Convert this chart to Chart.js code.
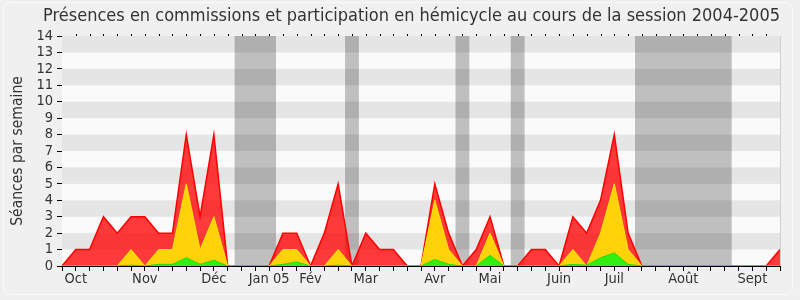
<!DOCTYPE html>
<html>
<head>
<meta charset="utf-8">
<script src="https://cdn.jsdelivr.net/npm/chart.js@4/dist/chart.umd.min.js"></script>
<style>
html,body{margin:0;padding:0;background:#f0f0f0;}
#wrap{position:absolute;left:0;top:0;width:800px;height:300px;}
#frame{position:absolute;left:3px;top:2px;width:788px;height:291px;border:1px solid #fbfbfb;border-radius:8px;}
canvas{position:absolute;left:0;top:0;}
</style>
</head>
<body>
<div id="wrap">
<div id="frame"></div>
<canvas id="c" width="800" height="300"></canvas>
</div>
<script>
// Week labels (53 weeks, month names where shown)
const monthLabels = {1:'Oct',6:'Nov',11:'Déc',15:'Jan 05',18:'Fév',22:'Mar',27:'Avr',31:'Mai',36:'Juin',40:'Juil',45:'Août',50:'Sept'};
const weeks = Array.from({length:53}, (_, i) => monthLabels[i] || '');

// Total sessions per week (red)
const totalSeances = [0,1,1,3,2,3,3,2,2,8,3,8,0, 0,0,0,2,2,0,2,5,0,2,1,1,0,0, 5,2,0,1,3,0,0,1,1,0,3,2,4,8,2,0, 0,0,0,0,0,0,0,0,0,1];
// Commission presences (yellow)
const commissions = [0,0,0,0,0,1,0,1,1,5,1,3,0, 0,0,0,1,1,0,0,1,0,0,0,0,0,0, 4,1,0,0,2,0,0,0,0,0,1,0,2,5,1,0, 0,0,0,0,0,0,0,0,0,0];
// Hemicycle interventions (green)
const hemicycle = [0,0,0,0,0,0.05,0,0.1,0.1,0.5,0.1,0.35,0, 0,0,0,0.1,0.25,0,0,0.05,0,0,0,0,0,0, 0.4,0.1,0,0,0.65,0,0,0,0,0,0.1,0.05,0.5,0.8,0.1,0, 0,0,0,0,0,0,0,0,0,0];
// Parliamentary recess weeks (index ranges)
const vacances = [[13,15],[21,21],[29,29],[33,33],[42,48]];
const yTicks = [0,14];

const FONT = 'DejaVu Sans Condensed';

const bgPlugin = {
  id:'bg',
  beforeDatasetsDraw(chart){
    const {ctx, chartArea:a, scales:{x,y}} = chart;
    ctx.save();
    ctx.fillStyle = '#fafafa';
    ctx.fillRect(a.left, a.top, a.right-a.left, a.bottom-a.top);
    ctx.fillStyle = '#e5e5e5';
    for(let v=1; v<14; v+=2){
      const y1 = y.getPixelForValue(v+1), y0 = y.getPixelForValue(v);
      ctx.fillRect(a.left, y1, a.right-a.left, y0-y1);
    }
    ctx.fillStyle = 'rgba(0,0,0,0.235)';
    const step = x.getPixelForValue(1)-x.getPixelForValue(0);
    vacances.forEach(([s,e])=>{
      const l = x.getPixelForValue(s)-step/2, r = x.getPixelForValue(e)+step/2;
      ctx.fillRect(l, a.top, r-l, a.bottom-a.top);
    });
    ctx.restore();
  },
  afterDraw(chart){
    const {ctx, chartArea:a, scales:{x}} = chart;
    ctx.save();
    ctx.strokeStyle = '#000';
    ctx.lineWidth = 1;
    for(let i=1;i<weeks.length-1;i++){
      const px = Math.round(x.getPixelForValue(i))+0.5;
      ctx.beginPath(); ctx.moveTo(px, a.top-2); ctx.lineTo(px, a.top); ctx.stroke();
    }
    ctx.strokeStyle = '#cfcfcf';
    ctx.beginPath(); ctx.moveTo(a.right+0.5, a.top); ctx.lineTo(a.right+0.5, a.bottom); ctx.stroke();
    ctx.restore();
  }
};

new Chart(document.getElementById('c'), {
  type:'line',
  data:{
    labels: weeks,
    datasets:[
      {data: hemicycle, fill:'origin', backgroundColor:'#33ee11', borderColor:'#22dd00', borderWidth:1, pointRadius:0, tension:0, order:1},
      {data: commissions, fill:'origin', backgroundColor:'#ffd20a', borderColor:'#ffe600', borderWidth:1, pointRadius:0, tension:0, order:2},
      {data: totalSeances, fill:'origin', backgroundColor:'rgba(255,0,0,0.77)', borderColor:'#ff0000', borderWidth:1.5, pointRadius:0, tension:0, order:3}
    ]
  },
  options:{
    responsive:false,
    animation:false,
    layout:{padding:{left:0,right:20,top:0,bottom:0}},
    plugins:{
      legend:{display:false},
      tooltip:{enabled:false},
      title:{display:true, text:'Présences en commissions et participation en hémicycle au cours de la session 2004-2005',
        align:'end', color:'#333', font:{family:FONT, size:18, weight:'normal', lineHeight:1.1}, padding:{top:6,bottom:10.2}}
    },
    scales:{
      x:{
        type:'category', offset:false,
        grid:{drawOnChartArea:false, color:'#000', tickLength:5, drawTicks:true},
        border:{color:'#000', width:1},
        ticks:{autoSkip:false, maxRotation:0, color:'#333', padding:0, font:{family:FONT, size:14.5}},
        afterFit(s){ s.height = 34; }
      },
      y:{
        min:yTicks[0], max:yTicks[1],
        grid:{drawOnChartArea:false, color:'#000', tickLength:5},
        border:{color:'#000', width:1},
        ticks:{stepSize:1, autoSkip:false, color:'#333', padding:4, font:{family:FONT, size:14.5}},
        title:{display:true, text:'Séances par semaine', color:'#333', font:{family:FONT, size:15.5}, padding:{top:9,bottom:0}},
        afterFit(s){ s.width = 62; }
      }
    }
  },
  plugins:[bgPlugin]
});
</script>
</body>
</html>
